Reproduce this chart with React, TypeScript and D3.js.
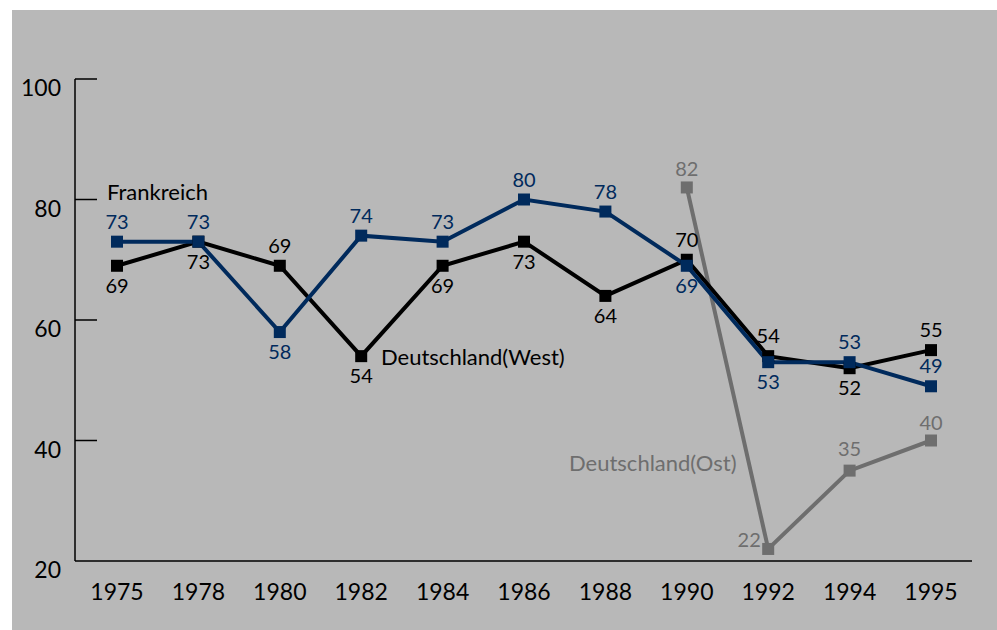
import React, { useEffect } from 'react';
import * as d3 from 'd3';

const years = ['1975', '1978', '1980', '1982', '1984', '1986', '1988', '1990', '1992', '1994', '1995'];
const frankreich = [73, 73, 58, 74, 73, 80, 78, 69, 53, 53, 49];
const west = [69, 73, 69, 54, 69, 73, 64, 70, 54, 52, 55];
const ostYears = ['1990', '1992', '1994', '1995'];
const ost = [82, 22, 35, 40];
const yTicks = [20, 40, 60, 80, 100];

// where each value label sits: a = above, b = below
const frPlace = ['a', 'a', 'b', 'a', 'a', 'a', 'a', 'b', 'b', 'a', 'a'];
const westPlace = ['b', 'b', 'a', 'b', 'b', 'b', 'b', 'a', 'a', 'b', 'a'];

const W = 997;
const H = 630;
const FONT = 'Lato, "Noto Sans", sans-serif';
const BLUE = '#002a5c';
const GREY = '#6e6e6e';

const App: React.FC = () => {
  useEffect(() => {
    document.body.style.margin = '0';
  }, []);

  const x = d3.scalePoint<string>().domain(years).range([117, 931]);
  const y = d3.scaleLinear().domain([20, 100]).range([561, 79]);

  const line = d3
    .line<[string, number]>()
    .x((d) => x(d[0]) as number)
    .y((d) => y(d[1]));

  const frData = years.map((yr, i) => [yr, frankreich[i]] as [string, number]);
  const westData = years.map((yr, i) => [yr, west[i]] as [string, number]);
  const ostData = ostYears.map((yr, i) => [yr, ost[i]] as [string, number]);

  const sq = 12;

  const markers = (data: [string, number][], color: string) =>
    data.map((d) => (
      <rect
        key={d[0]}
        x={(x(d[0]) as number) - sq / 2}
        y={y(d[1]) - sq / 2}
        width={sq}
        height={sq}
        fill={color}
      />
    ));

  const labels = (data: [string, number][], place: string[], color: string) =>
    data.map((d, i) => (
      <text
        key={d[0]}
        x={x(d[0]) as number}
        y={y(d[1]) + (place[i] === 'a' ? -20 : 20)}
        dy="0.35em"
        textAnchor="middle"
        fill={color}
        fontSize={20}
      >
        {d[1]}
      </text>
    ));

  const ostOffsets: [number, number][] = [[0, -18], [-19, -9], [0, -22], [0, -18]];

  return (
    <svg width={W} height={H} style={{ display: 'block' }} fontFamily={FONT}>
      <rect x={0} y={0} width={W} height={H} fill="#ffffff" />
      <rect x={12} y={10} width={W - 12} height={H - 10} fill="#b8b8b8" />

      {/* axes */}
      <line x1={75} x2={75} y1={y(100)} y2={y(20)} stroke="#000" strokeWidth={1.5} />
      <line x1={75} x2={972} y1={y(20)} y2={y(20)} stroke="#000" strokeWidth={1.5} />
      {yTicks.map((t) => (
        <g key={t}>
          {t !== 20 && <line x1={75} x2={97} y1={y(t)} y2={y(t)} stroke="#000" strokeWidth={1.5} />}
          <text x={61} y={y(t) + 9} dy="0.35em" textAnchor="end" fontSize={23} fill="#000">
            {t}
          </text>
        </g>
      ))}
      {years.map((yr) => (
        <text key={yr} x={x(yr) as number} y={592} dy="0.35em" textAnchor="middle" fontSize={23} fill="#000">
          {yr}
        </text>
      ))}

      {/* lines */}
      <path d={line(ostData) ?? ''} fill="none" stroke={GREY} strokeWidth={4} />
      <path d={line(westData) ?? ''} fill="none" stroke="#000" strokeWidth={4} />
      <path d={line(frData) ?? ''} fill="none" stroke={BLUE} strokeWidth={4} />
      {markers(ostData, GREY)}
      {markers(westData, '#000')}
      {markers(frData, BLUE)}

      {/* value labels */}
      {labels(westData, westPlace, '#000')}
      {labels(frData, frPlace, BLUE)}
      {ostData.map((d, i) => (
        <text
          key={d[0]}
          x={(x(d[0]) as number) + ostOffsets[i][0]}
          y={y(d[1]) + ostOffsets[i][1]}
          dy="0.35em"
          textAnchor="middle"
          fill={GREY}
          fontSize={20}
        >
          {d[1]}
        </text>
      ))}

      {/* series names */}
      <text x={107} y={192} dy="0.35em" fontSize={22} fill="#000">Frankreich</text>
      <text x={381} y={357} dy="0.35em" fontSize={22} fill="#000">Deutschland(West)</text>
      <text x={569} y={463} dy="0.35em" fontSize={22} fill={GREY}>Deutschland(Ost)</text>
    </svg>
  );
};

export default App;
